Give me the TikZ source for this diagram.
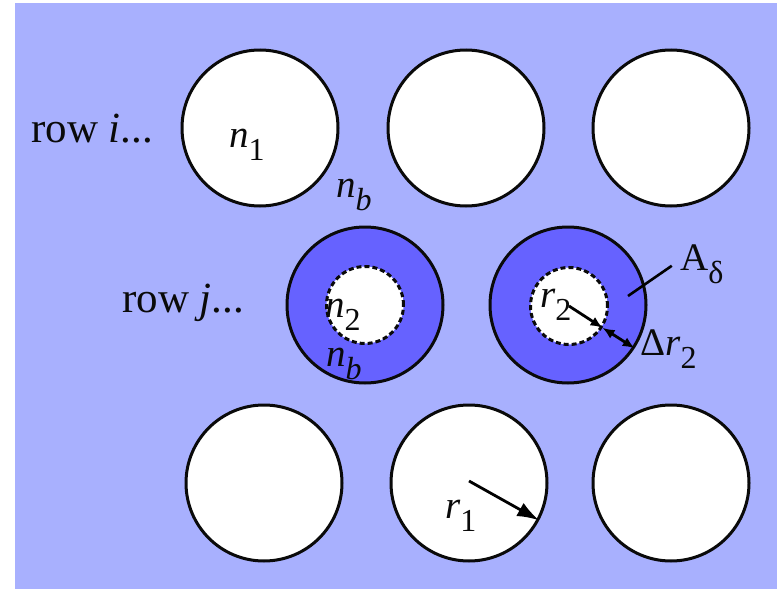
\documentclass[tikz,border=0pt]{standalone}
\usepackage{fontspec}
\setmainfont{Liberation Serif}
\usepackage{xcolor}
\definecolor{lilac}{RGB}{168,176,254}
\definecolor{ringblue}{RGB}{102,98,255}
\definecolor{ink}{RGB}{10,10,10}
\usepackage{graphicx}
\usepackage{tikz}
\usetikzlibrary{arrows.meta}
\newcommand{\lowidx}[1]{\raisebox{-0.35em}{\fontsize{32}{32}\selectfont #1}}
\tikzset{
  hole/.style={circle, draw=ink, fill=white, line width=3pt,
               minimum size=156pt, inner sep=0pt},
  shell/.style={hole, fill=ringblue},
  core/.style={circle, draw=ink, fill=white, line width=3pt,
               dash pattern=on 5pt off 3pt, minimum size=77pt, inner sep=0pt},
  lbl/.style={anchor=base west, inner sep=0pt, text=ink,
              font=\fontsize{43}{43}\selectfont},
  tag/.style={lbl, font=\fontsize{39}{39}\selectfont},
}

\begin{document}
\begin{tikzpicture}[x=1pt, y=-1pt]
\useasboundingbox (0,0) rectangle (777,589);
\fill[lilac] (15,3) rectangle (777,589);

% row i
\node[hole] (a1) at (260,128) {};
\node[hole] (a2) at (466,128) {};
\node[hole] (a3) at (671,128) {};
% row j
\node[shell] (s1) at (365,305) {};
\node[shell] (s2) at (568,305) {};
\node[core] (k1) at (365,305) {};
\node[core] (k2) at (569,306) {};
% next row
\node[hole] (b1) at (264,483) {};
\node[hole] (b2) at (469,483) {};
\node[hole] (b3) at (671,483) {};

% labels
\node[lbl] (rowi) at (31,142) {row \textit{i}...};
\node[lbl] (rowj) at (122,312) {row \textit{j}...};
\node[tag] (n1) at (229,147) {\textit{n}\lowidx{1}};
\node[tag] (nbtop) at (336,197) {\textit{n}\lowidx{\textit{b}}};
\node[tag] (n2) at (325,317) {\textit{n}\lowidx{2}};
\node[tag] (nbbot) at (326,366) {\textit{n}\lowidx{\textit{b}}};
\node[tag] (r2) at (540,307) {\textit{r}\lowidx{2}};
\node[tag] (Ad) at (680,270) {A\lowidx{δ}};
\node[tag] (dr2) at (640,355) {Δ\textit{r}\lowidx{2}};
\node[tag] (r1) at (445,518) {\textit{r}\lowidx{1}};

% radii
\coordinate (r1tail) at ([yshift=2pt]b2.center);
\draw[line width=2.8pt, -{Latex[length=22pt,width=15pt]}] (r1tail) -- (b2.-28);
\draw[line width=2.8pt, -{Latex[length=12pt,width=10pt]}] (k2.center) -- (k2.-33);
\draw[line width=2.8pt, {Latex[length=12pt,width=10pt]}-{Latex[length=12pt,width=10pt]}]
  (k2.-33) -- (s2.-33);
\coordinate (adpt) at (628,296);
\draw[line width=2.6pt, shorten >=10pt] (adpt) -- ([yshift=4pt]Ad.west);
\end{tikzpicture}
\end{document}
